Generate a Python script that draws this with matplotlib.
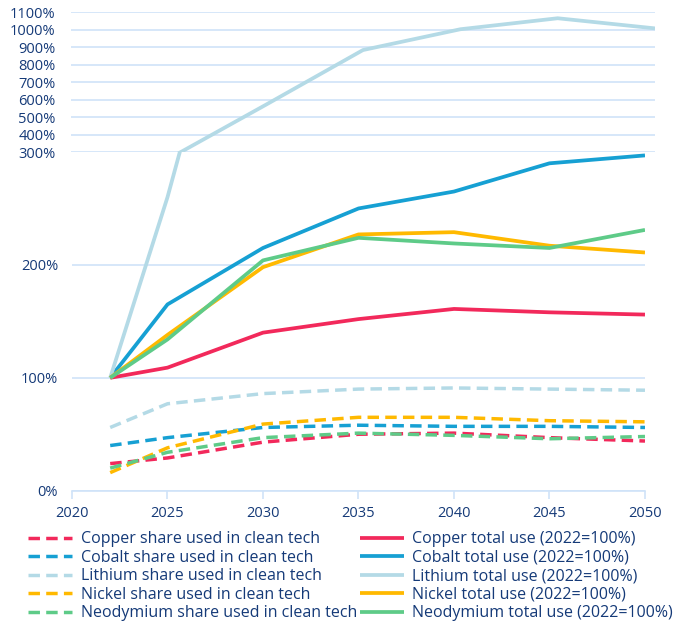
import matplotlib
matplotlib.use("Agg")
import matplotlib.pyplot as plt
from matplotlib.ticker import FuncFormatter

plt.rcParams['font.family'] = ['Open Sans', 'DejaVu Sans']

years = [2022, 2025, 2030, 2035, 2040, 2045, 2050]
metals = ["Copper", "Cobalt", "Lithium", "Nickel", "Neodymium"]
colors = ["#f2295b", "#16a0d3", "#b4dae6", "#ffb900", "#5ecb88"]

# share used in clean tech (%)
copper_share = [24, 29, 43, 50, 51, 47, 44]
cobalt_share = [40, 47, 56, 58, 57, 57, 56]
lithium_share = [56, 77, 86, 90, 91, 90, 89]
nickel_share = [16, 38, 59, 65, 65, 62, 61]
neodymium_share = [20, 34, 47, 51, 49, 46, 48]

# total use (2022=100%)
copper_total = [100, 109, 140, 152, 161, 158, 156]
cobalt_total = [100, 165, 215, 250, 265, 290, 297]
lithium_total = [100, 260, 570, 884, 1003, 1066, 1008]
nickel_total = [100, 138, 198, 227, 229, 217, 211]
neodymium_total = [100, 134, 204, 224, 219, 215, 231]

shares = [copper_share, cobalt_share, lithium_share, nickel_share, neodymium_share]
totals = [copper_total, cobalt_total, lithium_total, nickel_total, neodymium_total]

text_col = "#153a78"
grid_col = "#cfe3f8"

fig = plt.figure(figsize=(6.78, 6.22), dpi=100)
ax_lo = fig.add_axes([0.1062, 0.2111, 0.8451, 0.5445])
ax_hi = fig.add_axes([0.1047, 0.7556, 0.8614, 0.2246])

for ax in (ax_lo, ax_hi):
    for s in ax.spines.values():
        s.set_visible(False)
    ax.set_xlim(2020, 2050)
    ax.set_axisbelow(True)
    ax.tick_params(axis='y', length=0, labelsize=10.5, labelcolor=text_col, pad=10)
    ax.yaxis.set_major_formatter(FuncFormatter(lambda v, p: f"{v:.0f}%"))

dash_handles = []
solid_handles = []
for name, c, sh, tot in zip(metals, colors, shares, totals):
    h1, = ax_lo.plot(years, sh, color=c, lw=2.5, dashes=(3.3, 1.8),
                     dash_capstyle='butt', label=f"{name} share used in clean tech")
    h2, = ax_lo.plot(years, tot, color=c, lw=2.7, solid_capstyle='butt',
                     label=f"{name} total use (2022=100%)")
    # only series that go past 300% show up in the top part
    if max(tot) > 300:
        ax_hi.plot(years, tot, color=c, lw=2.7, solid_capstyle='butt')
    dash_handles.append(h1)
    solid_handles.append(h2)

# lower part 0-300%
ax_lo.set_ylim(0, 300)
ax_lo.set_yticks([0, 100, 200])
ax_lo.grid(axis='y', color=grid_col, lw=1.2)
ax_lo.spines['bottom'].set_visible(True)
ax_lo.spines['bottom'].set_color(grid_col)
ax_lo.spines['bottom'].set_linewidth(1.2)
ax_lo.set_xticks([2020, 2025, 2030, 2035, 2040, 2045, 2050])
ax_lo.tick_params(axis='x', length=6, width=1.2, color=grid_col,
                  labelsize=10.5, labelcolor=text_col, pad=5)

# upper part 300-1100%
ax_hi.set_ylim(300, 1100)
ax_hi.set_yticks(range(300, 1101, 100))
ax_hi.grid(axis='y', color=grid_col, lw=1.2)
ax_hi.set_xticks([])
ax_hi.tick_params(axis='y', pad=11)
ax_hi.patch.set_alpha(0)

leg_kw = dict(frameon=False, fontsize=11.5, handlelength=2.75, handletextpad=0.52,
              labelspacing=0.16, borderpad=0, borderaxespad=0, loc='upper left',
              labelcolor=text_col)
fig.legend(handles=dash_handles, bbox_to_anchor=(0.0417, 0.146), **leg_kw)
fig.legend(handles=solid_handles, bbox_to_anchor=(0.531, 0.146), **leg_kw)

fig.savefig("out.png", dpi=100)
